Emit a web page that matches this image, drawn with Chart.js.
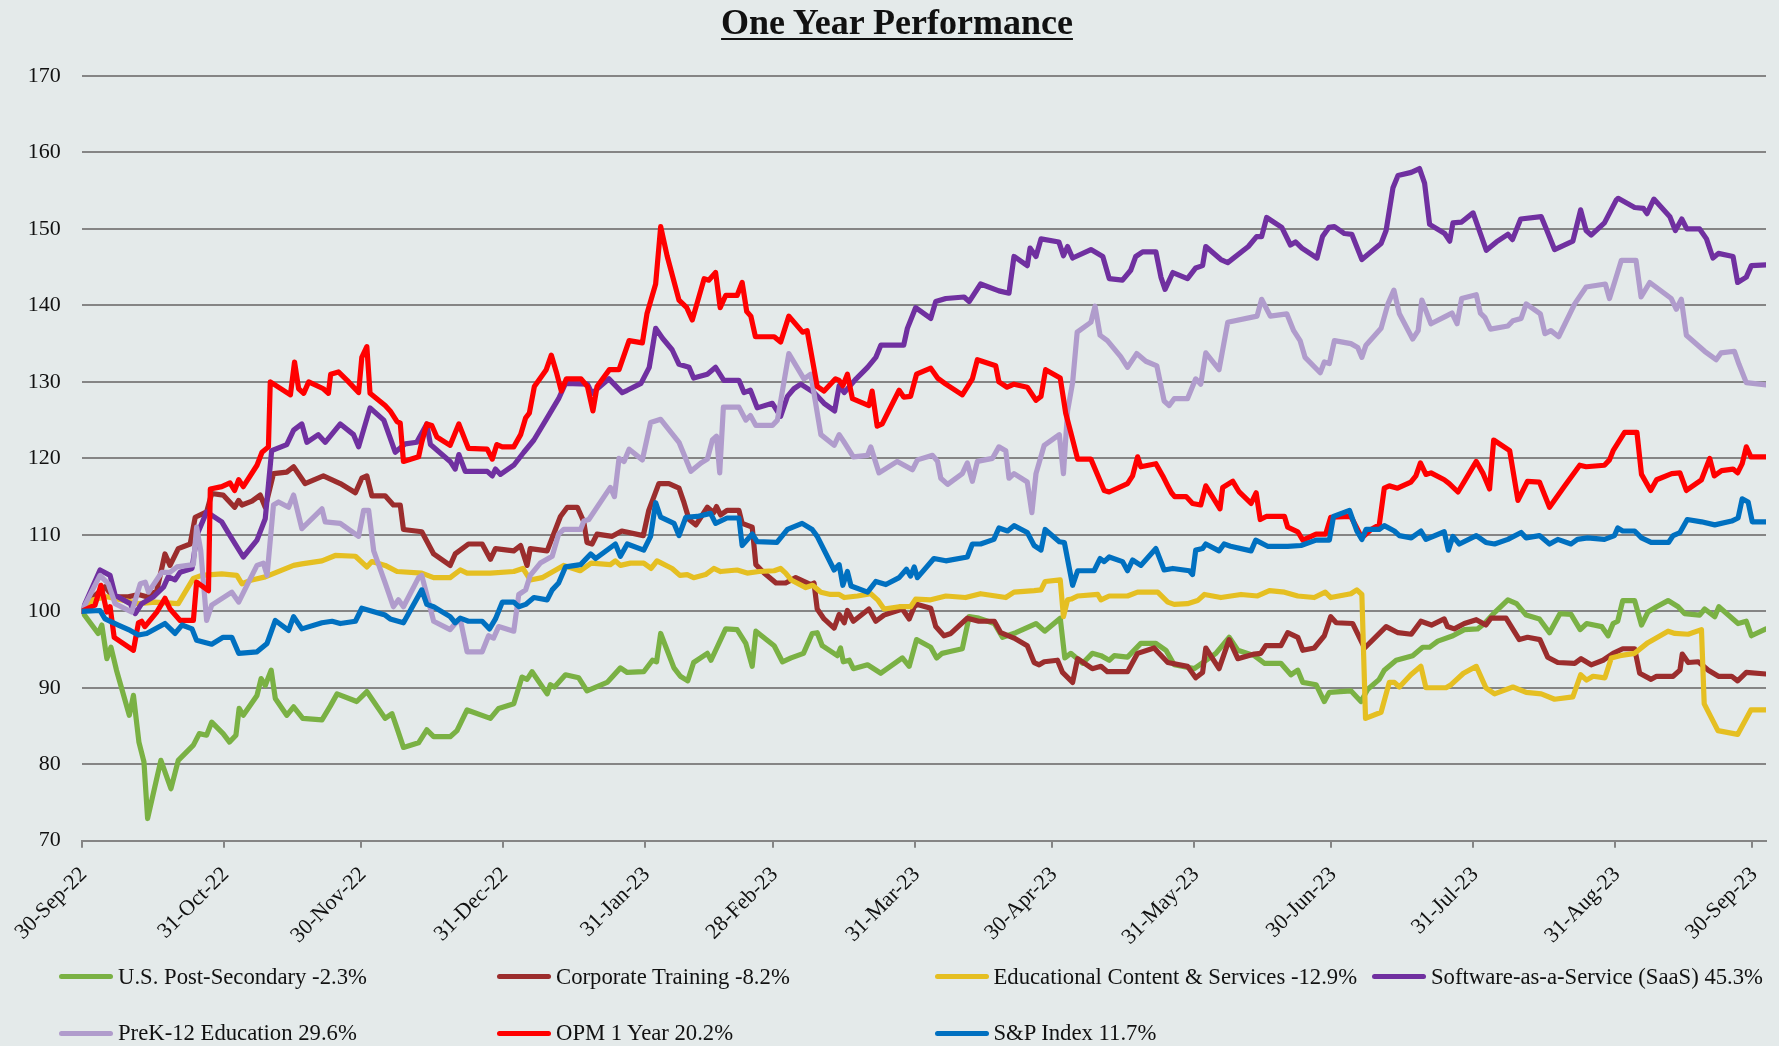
<!DOCTYPE html>
<html>
<head>
<meta charset="utf-8">
<script src="https://cdn.jsdelivr.net/npm/chart.js@4.4.1/dist/chart.umd.min.js"></script>
<style>
  html, body { margin:0; padding:0; background:#E4EAEA; }
  #wrap { position:relative; width:1779px; height:1046px; overflow:hidden; background:#E4EAEA; font-family:"Liberation Serif", "Times New Roman", serif; }
  #c { position:absolute; left:0; top:0; }
  #title { position:absolute; left:597px; width:600px; top:4px; text-align:center; font-weight:bold; font-size:36px; line-height:36px; color:#111; text-decoration:underline; text-decoration-thickness:2px; text-underline-offset:4px; }
  .lg { position:absolute; display:flex; align-items:center; height:30px; font-size:22.7px; color:#111; white-space:nowrap; }
  .lg .sw { width:54px; height:5px; border-radius:3px; margin-right:5px; }
</style>
</head>
<body>
<div id="wrap">
  <canvas id="c" width="1779" height="1046"></canvas>
  <div id="title">One Year Performance</div>
</div>
<script>
// x = days since 30-Sep-22
const tickDays = [0,31,61,92,123,151,182,212,243,273,304,335,365];
const tickLabels = ['30-Sep-22','31-Oct-22','30-Nov-22','31-Dec-22','31-Jan-23','28-Feb-23','31-Mar-23','30-Apr-23','31-May-23','30-Jun-23','31-Jul-23','31-Aug-23','30-Sep-23'];

const seriesNames = ['U.S. Post-Secondary -2.3%','Corporate Training -8.2%','Educational Content & Services -12.9%','Software-as-a-Service (SaaS) 45.3%','PreK-12 Education 29.6%','OPM 1 Year 20.2%','S&P Index 11.7%'];
const seriesColors = ['#7AB144','#9B2D2D','#E5BF22','#7030A0','#B09CCC','#FF0000','#0070C0'];

const postSecondary = [[0,100],[3.6,97.1],[4.4,98.2],[5.5,93.8],[6.4,95.3],[7.6,92.3],[10.4,86.4],[11.3,89.0],[12.5,82.9],[13.6,80.3],[14.4,72.9],[17.3,80.5],[19.5,76.8],[21.1,80.5],[24.4,82.5],[25.7,84.0],[27.3,83.8],[28.4,85.5],[30.9,84.0],[32.3,82.9],[33.7,83.8],[34.4,87.3],[35.3,86.4],[38.3,89.0],[39.2,91.2],[40.1,90.3],[41.4,92.3],[42.3,88.6],[44.8,86.4],[46.3,87.5],[48.3,86.0],[52.5,85.8],[54.3,87.6],[55.8,89.2],[60.1,88.2],[62.3,89.5],[66.3,86.0],[67.8,86.6],[68.9,84.7],[70.3,82.2],[73.6,82.8],[75.4,84.5],[76.9,83.6],[80.5,83.6],[82,84.4],[84.2,87.1],[89.3,86.0],[91.1,87.3],[94.4,87.9],[96.2,91.4],[97.3,91.1],[98.4,92.1],[101.7,89.2],[102.4,90.4],[103.3,90.1],[105.7,91.7],[108.6,91.3],[110.4,89.6],[114.8,90.7],[117.7,92.6],[119.2,92.0],[122.8,92.1],[124.7,93.6],[125.6,93.4],[126.5,97.1],[129.4,92.6],[130.8,91.5],[132.4,90.9],[133.7,93.3],[136.7,94.5],[137.5,93.6],[140.7,97.7],[143.2,97.6],[145.1,95.8],[146.5,92.8],[147.3,97.4],[151.3,95.5],[153.1,93.4],[155,93.9],[157.7,94.5],[159.6,97.1],[160.7,97.2],[161.8,95.5],[165.1,94.2],[165.8,95.2],[166.4,93.4],[167.7,93.6],[168.6,92.5],[171.7,93.0],[174.6,91.9],[179.3,93.9],[180.8,92.8],[182.4,96.3],[185.5,95.3],[186.8,93.9],[188,94.5],[189.5,94.7],[192.4,95.1],[193.9,99.3],[196,99.1],[199.4,98.4],[201.2,96.6],[204.1,97.2],[208.5,98.4],[210.4,97.4],[213.8,99.1],[214.8,93.9],[216.1,94.5],[218.7,93.2],[220.8,94.5],[222.7,94.2],[224.5,93.6],[225.6,94.2],[228.5,94.0],[231.4,95.8],[234.7,95.8],[236.9,94.9],[238.7,93.0],[243.1,92.5],[247.8,94.5],[250.7,96.6],[252.6,94.9],[256.2,94.2],[258.4,93.2],[262,93.2],[264.2,91.7],[265.7,92.3],[266.8,90.7],[269.7,90.4],[271.5,88.2],[272.6,89.4],[277.3,89.6],[279.5,88.2],[281,89.8],[283.5,91.1],[284.6,92.3],[287.2,93.6],[290.8,94.2],[293,95.3],[294.5,95.3],[296.3,96.1],[299.6,96.8],[302.1,97.6],[305,97.7],[306.5,98.4],[308.8,99.9],[311.6,101.5],[313.5,101.0],[315.6,99.5],[318.5,99.0],[320.7,97.2],[323,99.7],[325.4,99.6],[327.4,97.6],[328.8,98.4],[332.1,98.0],[333.5,96.8],[334.6,98.4],[335.6,98.7],[336.7,101.4],[339.3,101.4],[340.8,98.2],[342.2,99.9],[344.1,100.6],[346.6,101.4],[348.8,100.6],[350.2,99.7],[353.5,99.5],[354.6,100.3],[356.8,99.3],[357.7,100.6],[361.9,98.4],[363.7,98.7],[364.8,96.8],[368,97.7]];

const corporateTraining = [[0,100],[2.6,101.9],[5.1,103.2],[6.9,101.9],[10.2,101.9],[12.4,102.2],[14.2,101.9],[16.4,102.7],[18.2,107.5],[19.3,106],[21.1,108.2],[23.7,108.8],[24.8,112.3],[27.3,113],[28.4,115.4],[30.9,115.2],[33.4,113.6],[34.3,114.5],[35,113.9],[37.2,114.4],[39,115.2],[40.1,113.6],[41.9,118.0],[44.8,118.2],[46.3,118.9],[48.8,116.7],[52.8,117.7],[56.5,116.7],[59.8,115.5],[61.2,117.4],[62.3,117.7],[63.4,115.1],[66.3,115.1],[68.1,113.9],[69.6,113.9],[70.3,110.7],[74.3,110.4],[76.9,107.5],[80.5,106.0],[81.6,107.5],[84.5,108.8],[87.5,108.8],[89.3,106.8],[90.4,108.2],[94.4,107.9],[95.9,108.6],[97.3,106.0],[98,108.2],[101.7,107.9],[104.6,112.4],[106.1,113.6],[108.3,113.6],[109.7,111.7],[110.4,109.0],[111.5,108.8],[112.6,110.1],[115.9,109.8],[118,110.5],[122.7,109.9],[123.9,113.2],[126.1,116.7],[128.3,116.7],[130.5,116.1],[131.6,114.2],[132.7,112.0],[134.2,111.3],[136.7,113.6],[138.1,112.9],[138.7,113.7],[139.6,112.6],[141,113.2],[143.6,113.2],[144.3,111.5],[146.5,111.0],[147.3,106.1],[149.1,105.0],[151.7,103.7],[153.8,103.7],[156,104.4],[159.3,103.5],[160,103.7],[160.7,100.3],[162.2,99.0],[164.4,97.8],[165.5,99.6],[166.6,98.5],[167.3,100.1],[168.6,98.7],[172,100.3],[173.5,98.7],[175.3,99.5],[179.3,100.3],[180.8,99.0],[181.9,100.6],[182.6,100.9],[185.5,100.4],[186.6,98.0],[188.4,96.8],[189.9,97.1],[193.5,99.1],[196,98.7],[199.4,98.7],[200.8,97.2],[203.7,96.5],[206.6,95.5],[208.1,93.3],[209.2,93.0],[210.3,93.4],[213.2,93.6],[214.3,92.0],[216.5,90.7],[217.6,93.8],[220.8,92.5],[222.7,92.8],[224.1,92.1],[228.5,92.1],[230.7,94.5],[234.3,95.2],[237.3,93.3],[241.6,92.8],[243.4,91.3],[244.9,92.0],[245.6,95.2],[248.5,92.5],[250.7,96.3],[252.6,93.8],[256.2,94.4],[257.6,94.5],[258.7,95.5],[262,95.5],[263.5,97.2],[265.7,96.6],[266.8,94.9],[269.3,95.2],[271.5,96.8],[272.9,99.3],[274.1,98.5],[277.7,98.4],[280.3,95.2],[285,98.0],[287.6,97.2],[290.5,97.0],[292.6,98.7],[294.9,98.2],[297.7,99.0],[298.4,98.0],[299.9,97.7],[302.1,98.4],[304.7,98.9],[306.8,98.2],[307.9,99.1],[311.2,99.1],[314.1,96.3],[315.9,96.6],[318.6,96.3],[320.3,94.0],[322.5,93.3],[326.2,93.2],[327.6,93.8],[329.8,93.0],[332.4,93.6],[334.6,94.5],[336.7,95.1],[339.3,95.1],[340.4,91.9],[342.9,91.1],[344.1,91.5],[347.7,91.5],[349.2,92.3],[349.7,94.4],[351,93.3],[353.2,93.4],[355.4,92.3],[357.6,91.5],[360.5,91.5],[361.8,90.9],[363.7,92.0],[368,91.8]];

const educationalContent = [[0,100],[2.5,101.5],[5.5,101.9],[9.5,101.4],[12.4,101.0],[16,101.2],[21.1,101.0],[24.4,104.3],[26.2,104.7],[30.6,104.9],[33.9,104.7],[35,103.6],[37.2,104.1],[40.1,104.5],[46.3,106.0],[48.1,106.2],[52.5,106.6],[55.4,107.3],[59.8,107.2],[62.3,105.8],[63.4,106.5],[66.3,106.0],[68.9,105.2],[74.3,105.0],[76.9,104.4],[80.5,104.4],[82.7,105.4],[84.2,105.0],[89.3,105.0],[94.4,105.2],[96.4,105.6],[98,104.1],[100.6,104.4],[105.3,106.0],[108.9,105.3],[111.3,106.3],[115.5,106.1],[116.6,106.6],[117.7,106.0],[119.9,106.3],[122.8,106.3],[124.4,105.6],[125.7,106.6],[129,105.6],[130.7,104.7],[132.3,104.8],[133.7,104.4],[136.3,104.8],[138.1,105.6],[139.6,105.2],[143.2,105.4],[145.4,105.0],[148,105.2],[151.3,105.3],[152.7,105.6],[153.8,105.0],[155,104.1],[158.2,103.1],[159.7,103.4],[161.5,102.5],[163.6,102.2],[165.5,102.2],[166.6,101.8],[169.5,102.0],[172.4,102.3],[173.9,101.5],[175.3,100.3],[178.6,100.6],[181.1,100.6],[182.2,101.6],[185.5,101.5],[188.8,102.0],[193.1,101.8],[196.4,102.3],[201.9,101.8],[203.7,102.5],[208.1,102.7],[209.6,102.8],[210.5,103.9],[213.8,104.1],[214.5,99.3],[215.4,101.5],[216.2,101.6],[217.6,102.0],[222,102.2],[222.7,101.5],[224.5,102.0],[228.5,102.0],[230.7,102.5],[235.1,102.5],[237.3,101.2],[238.7,100.9],[241.6,101.0],[243.8,101.4],[245.3,102.2],[248.9,101.8],[253.3,102.2],[256.9,102.0],[259.5,102.7],[262.8,102.5],[265.7,102.0],[269.3,101.8],[271.7,102.5],[272.9,101.8],[277.3,102.3],[278.6,102.8],[279.7,102.2],[280.5,86.0],[283.9,86.8],[285.7,90.7],[286.8,90.7],[287.9,90.1],[290.4,91.7],[292.6,92.8],[293.7,90.0],[298.1,90.0],[299.2,90.4],[301.9,91.9],[304.7,92.8],[306.8,90.0],[308.7,89.2],[312.7,90.1],[315.6,89.4],[318.9,89.2],[321.8,88.5],[325.8,88.8],[327.5,91.7],[328.8,91.0],[330.2,91.5],[332.8,91.3],[334.2,93.9],[336.1,94.2],[339.3,94.5],[342.2,95.9],[346.6,97.4],[348.1,97.1],[351,97.0],[353.9,97.6],[354.5,87.9],[357.5,84.4],[361.8,83.9],[364.7,87.1],[368,87.1]];

const saas = [[0,100],[4,105.4],[6.2,104.7],[7.3,102.1],[10.6,101.0],[11.7,99.7],[13.1,101.0],[15.7,101.9],[17.9,103.2],[18.9,104.5],[20.4,104.1],[21.5,105.1],[24.1,105.6],[25.2,110],[27.3,113],[30.6,111.7],[32.1,110.2],[35.3,107.1],[38.3,109.3],[40.1,112.1],[41.5,121],[44.8,121.8],[46.3,123.7],[48.1,124.5],[49.2,122.1],[51.7,123.1],[53.2,122.1],[56.5,124.5],[59.4,123.1],[60.5,121.5],[63,126.6],[66,125],[68.5,120.8],[70.7,121.9],[73.2,122.1],[75.4,124.5],[76.2,121.8],[80.5,119.6],[81.6,118.6],[82.4,120.5],[83.8,118.3],[88.6,118.3],[89.7,117.7],[90.4,118.6],[91.5,117.9],[94.4,119.1],[96.6,120.8],[98.8,122.4],[101.7,125.3],[104.2,127.8],[105.7,129.8],[110.5,129.7],[111.5,128.5],[115.2,130.4],[118.1,128.6],[119.2,128.9],[122.2,129.8],[124,131.9],[125.4,137],[126.9,135.7],[129,134.2],[130.5,132.3],[132.7,131.9],[133.7,130.5],[136.7,131],[138.5,131.9],[140.3,130.2],[143.6,130.2],[144.7,128.6],[146.1,128.9],[147.6,126.6],[150.9,127.2],[152.7,125.5],[154.2,128.1],[155.6,129.1],[157.1,129.7],[160,128.6],[162.2,127.2],[164.5,126.2],[165.5,129.5],[166.6,128.6],[169.2,130.4],[171.7,131.9],[173.5,133.2],[174.6,134.8],[179.6,134.8],[180.4,137.0],[182.2,139.7],[185.5,138.3],[186.6,140.5],[188.8,140.9],[192.8,141.1],[193.9,140.5],[196.4,142.8],[200.4,141.9],[202.6,141.6],[203.7,146.4],[206.6,145.2],[207.2,147.5],[208.5,146.4],[209.6,148.7],[213.5,148.3],[214.5,146.5],[215.4,147.7],[216.5,146.2],[220.5,147.3],[223.1,146.4],[224.5,143.5],[227.4,143.3],[229.2,144.6],[230.3,146.4],[231.8,147.0],[234.7,147.0],[235.8,143.7],[236.7,142.1],[238.4,144.3],[241.6,143.5],[243.4,144.9],[244.9,145.2],[245.6,147.7],[248.9,146.0],[250.4,145.6],[254.9,147.7],[256.7,149.0],[257.8,149.0],[258.9,151.5],[262.2,150.2],[264.1,147.9],[265.2,148.3],[266.6,147.5],[269.9,146.2],[271.1,149.0],[272.5,150.2],[273.7,150.3],[275.9,149.4],[277.5,149.3],[279.7,146.0],[283.9,148.1],[285,149.8],[286.5,155.4],[287.6,157.0],[290.5,157.4],[292.3,157.9],[293.4,156.0],[294.5,150.6],[297.8,149.4],[298.9,148.4],[299.6,150.8],[301.5,150.9],[304,152.1],[306.9,147.2],[309.1,148.3],[311.6,149.3],[312.6,148.6],[314.4,151.3],[318.9,151.6],[320,150.0],[321.8,147.3],[325.8,148.4],[327.5,152.5],[328.7,149.8],[329.8,149.2],[332.7,150.8],[335.3,153.8],[335.7,154.0],[339.3,152.8],[341.2,152.7],[342,152],[343.5,153.9],[347,151.6],[348.2,149.8],[349.6,151.3],[350.7,150.0],[353.5,150.0],[355,148.7],[356.4,146.2],[357.6,146.8],[360.8,146.4],[361.8,143.0],[363.7,143.7],[364.8,145.2],[368,145.3]];

const preK12 = [[0,100],[4,104.7],[5.8,103.6],[7.3,101.0],[10.9,99.9],[12.8,103.6],[13.9,103.8],[14.6,102.5],[17.5,105.1],[19.3,105.1],[20.8,105.8],[24.4,106.1],[25.1,111.0],[26,108],[27.3,98.8],[28.4,100.8],[32.8,102.5],[34.3,101.2],[36.1,103.4],[38.3,106.0],[39.7,106.3],[40.5,104.7],[41.9,113.9],[43,114.3],[45.2,113.6],[46.3,115.2],[48.1,110.8],[52.5,113.4],[53.2,111.7],[56.5,111.5],[60.5,109.8],[61.6,113.2],[62.7,113.2],[63.8,107.9],[66.3,103.7],[68.1,100.6],[69.2,101.5],[70.3,100.6],[73.6,104.4],[74.3,104.7],[76.9,98.7],[80.5,97.6],[81.6,98.4],[82.7,99.0],[84.2,94.7],[87.5,94.7],[88.9,96.8],[90,96.5],[91.1,98.0],[94.4,97.4],[95.5,102.2],[97,102.8],[98,104.7],[100.2,106.3],[102.8,107.2],[104.2,110.1],[105.3,110.7],[109,110.7],[109.7,111.8],[110.8,112.0],[115.5,116.2],[116.4,115.0],[117.4,120.0],[118.5,119.6],[119.6,121.2],[122.5,119.8],[124.3,124.7],[126.5,125.1],[130.5,122.1],[131.6,120.5],[133.1,118.3],[135.3,119.4],[136.7,119.9],[137.8,122.4],[138.7,122.9],[139.4,118.1],[140.2,126.7],[143.6,126.7],[145.1,125.0],[146.1,125.6],[147.3,124.3],[150.9,124.3],[152,125.0],[154.5,133.7],[157.8,130.4],[159.3,131.0],[161.5,123.1],[164.4,121.7],[165.5,123.1],[166.6,122.1],[168.6,120.2],[171.7,120.4],[172.4,121.5],[174.2,118.1],[178.2,119.6],[181.5,118.5],[182.6,119.8],[185.9,120.4],[187,119.6],[187.7,117.4],[189.2,116.6],[192.4,118.0],[193.5,119.4],[194.6,117.0],[195.7,119.6],[199,120.0],[200.4,121.5],[201.9,121.0],[202.6,117.4],[203.7,118.0],[206.6,116.9],[207.6,112.9],[208.5,118.0],[210.3,121.7],[213.6,123.1],[214.5,118.0],[215.4,126.2],[216.5,129.9],[217.5,136.5],[220.5,137.8],[221.4,139.9],[222.5,136.1],[224.1,135.4],[227,133.3],[228.5,131.9],[230.5,133.7],[232.5,132.7],[234.9,132.1],[236.5,127.5],[237.6,126.9],[238.7,127.8],[241.6,127.8],[243.4,130.4],[244.5,129.7],[245.6,133.8],[248.5,131.6],[250.4,137.8],[256.8,138.6],[257.8,140.8],[259.7,138.6],[263.3,138.9],[264.8,136.7],[266.2,135.4],[267.3,133.2],[270.6,131.2],[271.5,132.6],[272.6,132.4],[273.7,135.4],[277.3,135.0],[278.8,134.5],[279.7,133.2],[280.6,134.8],[283.9,137.0],[285.4,140.2],[286.7,142.0],[287.9,138.9],[290.8,135.6],[292,136.7],[292.8,140.7],[294.8,137.6],[298.1,138.6],[299.4,139],[300.5,137.6],[301.5,140.9],[304.7,141.4],[305.6,139.0],[306.6,138.4],[307.8,136.9],[311.6,137.3],[312.7,138.0],[314.5,138.3],[315.6,140.2],[318.7,138.9],[319.7,136.3],[321,136.7],[322.7,135.9],[326.2,140.2],[328.7,142.4],[332.9,142.8],[333.8,140.9],[334.9,143.0],[336.4,145.9],[339.6,145.9],[340.7,141.1],[342.6,143.0],[347.3,140.9],[348.4,139.5],[349.5,140.8],[350.6,136.1],[354.6,134.0],[357.1,132.9],[358.2,133.8],[361.1,134.0],[362.1,132.3],[363.7,129.9],[368,129.6]];

const opm = [[0,100],[2.9,100.8],[4.2,103.4],[5.5,99.9],[6.2,100.6],[7.1,96.6],[11.3,94.9],[12.4,98.5],[13.1,98.7],[13.8,98.0],[16.4,99.9],[18.2,101.7],[19.3,100.3],[21.5,98.8],[24.4,98.8],[25.1,103.8],[27.7,102.7],[28.1,116.0],[30.6,116.3],[32.4,116.8],[33.4,115.8],[34.3,117.2],[35.3,116.3],[38.3,119.1],[39.4,120.8],[40.8,121.5],[41.2,130.0],[45.6,128.3],[46.5,132.6],[47.4,129.1],[48.5,128.5],[49.6,130.0],[52.8,129.1],[53.9,128.5],[54.4,131.0],[56.1,131.3],[58,130.2],[60.5,128.6],[61.2,133.2],[62.3,134.6],[63,128.5],[66.3,126.9],[67.4,126.2],[68.9,124.8],[69.6,124.6],[70.3,119.6],[73.6,120.2],[74.3,122.1],[75.4,124.5],[76.5,124.3],[77.6,122.8],[80.5,121.7],[82.4,124.5],[84.5,121.3],[88.6,121.2],[89.7,119.9],[90.7,121.8],[91.9,121.5],[94.4,121.5],[95.9,123.1],[97,125.3],[97.8,125.9],[98.9,129.4],[101.5,131.6],[102.6,133.5],[103.7,131.3],[104.8,128.8],[105.9,130.4],[109.1,130.4],[110.5,129.4],[111.7,126.2],[112.6,129.4],[115.3,131.6],[117.4,131.6],[119.6,135.4],[122.5,135.1],[123.5,138.9],[125.4,142.8],[126.5,150.3],[127.9,146.5],[130.5,140.7],[132.2,139.7],[133.4,138.1],[136,143.5],[137,143.3],[138.5,144.3],[139.5,139.7],[140.7,141.3],[143.2,141.3],[144.3,143.0],[145.3,139.2],[146.2,138.6],[147.2,135.9],[151.3,135.9],[152.7,135.2],[154.5,138.6],[157.5,136.5],[158.5,136.7],[160.7,129.4],[162.2,128.8],[164.7,130.4],[165.5,130.2],[166.3,129.5],[167.3,131.0],[168.4,127.8],[172,126.9],[172.7,128.8],[173.8,124.2],[174.9,124.5],[178.6,128.9],[179.6,128.0],[181.1,128.1],[182.4,131.0],[185.5,131.8],[187,130.5],[188.8,129.7],[192.4,128.3],[194.6,130.4],[195.7,132.9],[199.7,132.1],[200.4,130.0],[202.2,129.3],[203.7,129.7],[206.6,129.3],[208.5,127.6],[209.6,128.1],[210.6,131.6],[213.8,130.5],[215,125.9],[216.1,123.4],[217.6,119.9],[220.5,119.9],[223.4,115.8],[224.5,115.6],[228.5,116.7],[229.6,117.7],[230.7,120.2],[231.4,118.9],[234.7,119.3],[236.2,117.7],[237.3,116.4],[238.1,115.5],[238.8,115.0],[241.3,115.0],[242.7,114.1],[244.5,113.9],[245.6,116.4],[248.7,113.4],[249.3,116.2],[251.5,117.0],[252.9,115.6],[255.5,114.1],[256.6,115.5],[257.5,112.0],[258.8,112.4],[262.8,112.4],[263.5,111.0],[265.7,110.4],[266.8,109.3],[269.7,110.1],[271.8,110.1],[272.9,112.3],[277.3,112.4],[278.6,110.9],[279.7,109.6],[281.7,110.7],[283.5,111.3],[284.6,116.1],[285.7,116.4],[287.5,116.1],[290.4,116.9],[291.5,117.7],[292.5,119.4],[293.7,117.9],[294.8,118.1],[297.7,117.2],[298.8,116.7],[300.7,115.6],[302.1,117.0],[304.7,119.6],[306.2,118.0],[307.6,116.0],[308.5,122.4],[312,121.0],[313.8,114.5],[315.9,117.0],[318.5,116.9],[320.7,113.6],[324,116.4],[327.3,119.1],[328.7,118.9],[332.7,119.1],[333.8,119.8],[334.6,121.0],[337.1,123.4],[339.8,123.4],[340.8,117.9],[342.8,115.8],[344.1,117.2],[347.4,118.0],[349.2,118.1],[350.6,115.8],[353.9,117.2],[355.7,120.0],[356.7,117.7],[358.3,118.4],[360.8,118.6],[361.8,118.1],[362.8,119.3],[363.7,121.5],[364.7,120.2],[368,120.2]];

const spIndex = [[0,100],[4,100.1],[5.1,99.0],[8,98.2],[10.6,97.5],[12.4,96.9],[14.2,97.1],[18.2,98.4],[20.4,97.1],[21.9,98.2],[24.1,97.7],[25.1,96.2],[28.4,95.7],[30.9,96.6],[32.8,96.6],[34.3,94.5],[38.3,94.7],[40.5,95.8],[42.3,98.8],[45.2,97.5],[46.3,99.3],[48.1,97.7],[52.5,98.5],[54.7,98.7],[56.5,98.4],[59.8,98.7],[61.2,100.4],[66.3,99.5],[67.4,99.0],[70.3,98.5],[74.3,102.8],[75.4,100.9],[76.9,100.6],[80.5,99.3],[81.6,98.5],[82.7,99.1],[84.5,98.7],[87.5,98.7],[89.1,97.7],[90.4,99.0],[91.9,101.2],[94.4,101.2],[95.5,100.6],[97,100.9],[98.8,101.8],[101.7,101.5],[102.8,102.8],[104.2,103.7],[105.7,105.8],[109,106.1],[111.2,107.5],[112.3,106.9],[116.6,108.8],[117.7,107.2],[119.2,108.8],[122.8,108.0],[124.3,109.8],[125.4,114.2],[126.5,112.3],[129.4,111.5],[130.5,109.9],[132,112.3],[134.5,112.4],[137.4,112.8],[138.5,111.5],[141,112.2],[143.6,112.2],[144.3,108.6],[146.5,110.1],[147.6,109.1],[151.9,109.0],[154.2,110.7],[157.4,111.5],[159.6,110.7],[160.7,109.8],[164.4,105.4],[165.5,106.1],[166.3,103.4],[167.3,105.2],[168.1,103.3],[171.7,102.5],[173.5,103.9],[175.7,103.5],[178.6,104.4],[180.2,105.5],[181.1,104.6],[181.9,105.8],[182.6,104.4],[186.2,106.9],[188.8,106.6],[193.5,107.1],[194.6,108.8],[196.4,108.8],[199.3,109.4],[200.4,110.9],[202.3,110.5],[203.7,111.2],[206.6,110.3],[208.1,108.6],[209.6,108.0],[210.5,110.7],[213.6,109.1],[214.7,109.0],[216.5,103.4],[217.6,105.3],[221.2,105.3],[222.5,106.9],[223.4,106.5],[224.5,107.1],[227.4,106.5],[228.5,105.3],[229.6,106.7],[231.4,106.0],[234.7,108.2],[236.5,105.4],[238.4,105.6],[242,105.3],[242.7,104.8],[243.4,108.0],[244.9,108.2],[245.6,108.8],[248.5,107.9],[249.6,108.8],[251,108.5],[255.5,107.9],[256.5,109.3],[259.1,108.5],[263.5,108.5],[266.4,108.6],[269.7,109.3],[272.6,109.3],[273.5,112.4],[277,113.2],[278.6,110.5],[279.7,109.4],[280.6,110.7],[283.5,110.7],[284.6,111.2],[286.8,110.5],[287.9,109.9],[290.5,109.6],[292.6,110.5],[293.7,109.4],[297.7,110.4],[298.6,108.0],[299.6,109.8],[301,108.8],[304.7,109.9],[306.8,109.0],[308.7,108.8],[311.6,109.4],[314.5,110.3],[315.6,109.6],[318.5,109.9],[320.7,108.8],[322.5,109.4],[325.4,108.8],[326.8,109.4],[329,109.6],[332.7,109.4],[334.9,109.9],[335.6,110.9],[336.7,110.5],[339.3,110.5],[340.8,109.6],[342.9,109.0],[346.7,109.0],[347.7,109.9],[349.2,110.3],[350.8,112.0],[353.9,111.7],[356.8,111.3],[360.5,111.8],[361.9,112.2],[362.8,114.7],[364.1,114.3],[365,111.7],[368,111.7]];

const seriesData = [postSecondary, corporateTraining, educationalContent, saas, preK12, opm, spIndex];

const FONT = '"Liberation Serif", "Times New Roman", serif';
Chart.defaults.font.family = FONT;

const datasets = seriesData.map((arr, i) => ({
  label: seriesNames[i],
  data: arr.map(p => ({x: p[0], y: p[1]})),
  borderColor: seriesColors[i],
  backgroundColor: seriesColors[i],
  borderWidth: 5.2,
  pointRadius: 0,
  tension: 0,
  fill: false,
  borderJoinStyle: 'round',
  borderCapStyle: 'round',
  order: seriesData.length - 1 - i
}));

new Chart(document.getElementById('c'), {
  type: 'line',
  data: { datasets },
  options: {
    responsive: false,
    animation: false,
    devicePixelRatio: 1,
    layout: { padding: { left: 0, right: 13, top: 76, bottom: 95 } },
    plugins: { legend: { display: false }, title: { display: false }, tooltip: { enabled: false } },
    scales: {
      x: {
        type: 'linear', min: 0, max: 368,
        afterBuildTicks: s => { s.ticks = tickDays.map(v => ({ value: v })); },
        afterFit: s => { s.height = 110.3; s.paddingLeft = 0; s.paddingRight = 0; },
        ticks: {
          autoSkip: false, minRotation: 45, maxRotation: 45,
          callback: (v, i) => tickLabels[i],
          font: { size: 22 }, color: '#111', padding: 14, labelOffset: 2
        },
        grid: { drawOnChartArea: false, drawTicks: true, tickLength: 7, color: '#858585', lineWidth: 2 },
        border: { display: true, color: '#858585', width: 2 }
      },
      y: {
        min: 70, max: 170,
        afterFit: s => { s.width = 81.7; s.paddingTop = 0; s.paddingBottom = 0; },
        ticks: { stepSize: 10, font: { size: 22 }, color: '#111', padding: 21 },
        grid: { color: '#858585', lineWidth: 2, drawTicks: false },
        border: { display: false }
      }
    }
  }
});

// legend (HTML)
const wrap = document.getElementById('wrap');
const colX = [59, 497, 934.5, 1372];
const rowY = [976.7, 1033];
seriesNames.forEach((name, i) => {
  const d = document.createElement('div');
  d.className = 'lg';
  d.style.left = colX[i % 4] + 'px';
  d.style.top = (rowY[Math.floor(i / 4)] - 15) + 'px';
  const sw = document.createElement('span');
  sw.className = 'sw';
  sw.style.background = seriesColors[i];
  const t = document.createElement('span');
  t.textContent = name;
  d.appendChild(sw); d.appendChild(t);
  wrap.appendChild(d);
});
</script>
</body>
</html>
